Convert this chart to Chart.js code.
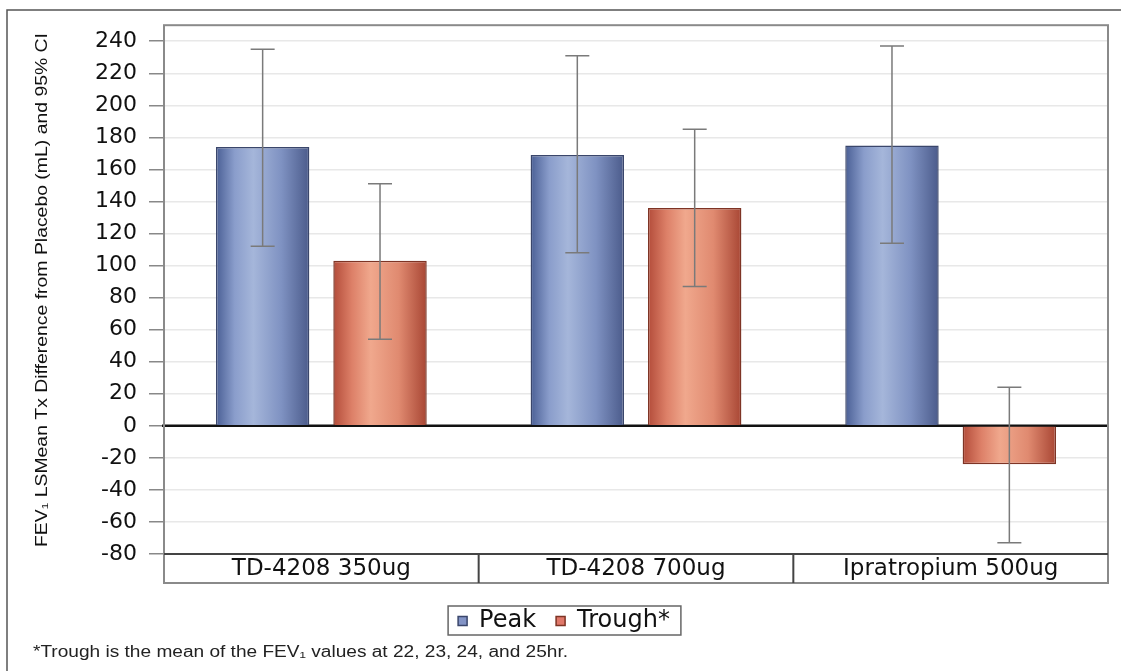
<!DOCTYPE html>
<html>
<head>
<meta charset="utf-8">
<title>FEV1 LSMean difference from placebo</title>
<script src="https://cdn.jsdelivr.net/npm/chart.js@4/dist/chart.umd.min.js"></script>
<style>
  html, body { margin: 0; padding: 0; background: #fff; }
  canvas { display: block; }
</style>
</head>
<body>
<canvas id="fev" width="1121" height="671"></canvas>
<script>
// treatments and LSMean differences (mL) with 95% CI
var categories = ['TD-4208 350ug', 'TD-4208 700ug', 'Ipratropium 500ug'];
var peak = [174, 169, 175];
var peakLow = [112, 108, 114];
var peakHigh = [235, 231, 237];
var trough = [103, 136, -24];
var troughLow = [54, 87, -73];
var troughHigh = [151, 185, 24];
var yTicks = [-80, -60, -40, -20, 0, 20, 40, 60, 80, 100, 120, 140, 160, 180, 200, 220, 240];

var yTitle = 'FEV\u2081 LSMean Tx Difference from Placebo (mL) and 95% CI';
var footnote = '*Trough is the mean of the FEV\u2081 values at 22, 23, 24, and 25hr.';

var FONT = "'DejaVu Sans', Verdana, sans-serif";
var ARIAL = "'Liberation Sans', Arial, sans-serif";
var CAT_BOX = 29; // height of the category label row

// horizontal shading of each bar, like a lit cylinder
var shades = [
  { stops: ['#4a5f95', '#8a9dcb', '#a5b6da', '#7f92c2', '#4b5b8b'], border: '#3a466b' },
  { stops: ['#b34c3a', '#dd8068', '#f0a88d', '#e08a70', '#a84634'], border: '#7e3425' }
];

var barShading = {
  id: 'barShading',
  beforeDatasetsDraw: function (chart) {
    var ctx = chart.ctx;
    chart.data.datasets.forEach(function (ds, di) {
      var meta = chart.getDatasetMeta(di);
      var s = shades[di];
      meta.data.forEach(function (el) {
        var x0 = el.x - el.width / 2, x1 = el.x + el.width / 2;
        var g = ctx.createLinearGradient(x0, 0, x1, 0);
        g.addColorStop(0, s.stops[0]);
        g.addColorStop(0.2, s.stops[1]);
        g.addColorStop(0.4, s.stops[2]);
        g.addColorStop(0.7, s.stops[3]);
        g.addColorStop(1, s.stops[4]);
        el.options = Object.assign({}, el.options, { backgroundColor: g, borderColor: s.border });
      });
    });
  }
};

// 95% CI whiskers drawn through the y scale
var errorBars = {
  id: 'errorBars',
  afterDatasetsDraw: function (chart) {
    var ctx = chart.ctx, y = chart.scales.y;
    var lows = [peakLow, troughLow], highs = [peakHigh, troughHigh];
    ctx.save();
    ctx.strokeStyle = '#7a7a7a';
    ctx.lineWidth = 1.5;
    chart.data.datasets.forEach(function (ds, di) {
      chart.getDatasetMeta(di).data.forEach(function (el, i) {
        var yl = y.getPixelForValue(lows[di][i]);
        var yh = y.getPixelForValue(highs[di][i]);
        ctx.beginPath();
        ctx.moveTo(el.x, yl); ctx.lineTo(el.x, yh);
        ctx.moveTo(el.x - 12, yl); ctx.lineTo(el.x + 12, yl);
        ctx.moveTo(el.x - 12, yh); ctx.lineTo(el.x + 12, yh);
        ctx.stroke();
      });
    });
    ctx.restore();
  }
};

// text squeezed or widened along its baseline to a given length
function fitText(ctx, text, len) {
  var w = ctx.measureText(text).width;
  ctx.scale(len / w, 1);
  ctx.fillText(text, 0, 0);
}

// frame, zero line, category box, legend box, axis title, footnote
var decor = {
  id: 'decor',
  beforeDatasetsDraw: function (chart) {
    var ctx = chart.ctx, a = chart.chartArea, y = chart.scales.y;
    var y0 = y.getPixelForValue(0);
    ctx.save();
    ctx.strokeStyle = '#111';
    ctx.lineWidth = 2.5;
    ctx.beginPath();
    ctx.moveTo(a.left - 2, y0); ctx.lineTo(a.right, y0);
    ctx.stroke();
    ctx.restore();
  },
  afterDraw: function (chart) {
    var ctx = chart.ctx, a = chart.chartArea, x = chart.scales.x;
    var boxBottom = a.bottom + CAT_BOX;
    ctx.save();
    // outer frame
    ctx.strokeStyle = '#555';
    ctx.lineWidth = 1.5;
    ctx.beginPath();
    ctx.moveTo(7, chart.height); ctx.lineTo(7, 10); ctx.lineTo(chart.width, 10);
    ctx.stroke();
    // plot border including category row
    ctx.strokeStyle = '#8a8a8a';
    ctx.lineWidth = 2;
    ctx.strokeRect(a.left, a.top, a.right - a.left, boxBottom - a.top);
    // axis line and category dividers
    ctx.strokeStyle = '#444';
    ctx.beginPath();
    ctx.moveTo(a.left, a.bottom); ctx.lineTo(a.right, a.bottom);
    for (var i = 1; i < categories.length; i++) {
      var px = x.getPixelForValue(i - 0.5);
      ctx.moveTo(px, a.bottom); ctx.lineTo(px, boxBottom);
    }
    ctx.stroke();
    // legend frame
    var lg = chart.legend;
    if (lg && lg.legendHitBoxes && lg.legendHitBoxes.length) {
      var hb = lg.legendHitBoxes;
      var last = hb[hb.length - 1];
      var l = hb[0].left - 10, r = last.left + last.width + 11;
      var t = hb[0].top - 3, h = hb[0].height + 5;
      ctx.strokeStyle = '#666';
      ctx.lineWidth = 1.5;
      ctx.strokeRect(l, t, r - l, h);
    }
    ctx.fillStyle = '#111';
    ctx.textBaseline = 'middle';
    // y axis title
    ctx.save();
    ctx.translate(42, 290);
    ctx.rotate(-Math.PI / 2);
    ctx.textAlign = 'center';
    ctx.font = '17px ' + ARIAL;
    fitText(ctx, yTitle, 514);
    ctx.restore();
    // footnote
    ctx.save();
    ctx.translate(33, 653);
    ctx.textAlign = 'left';
    ctx.fillStyle = '#222';
    ctx.font = '16px ' + ARIAL;
    fitText(ctx, footnote, 535);
    ctx.restore();
    ctx.restore();
  }
};

new Chart(document.getElementById('fev').getContext('2d'), {
  type: 'bar',
  data: {
    labels: categories,
    datasets: [
      { label: 'Peak', data: peak, backgroundColor: '#8394c6', borderColor: '#3a466b', borderWidth: 1.5 },
      { label: 'Trough*', data: trough, backgroundColor: '#e0786a', borderColor: '#7e3425', borderWidth: 1.5 }
    ]
  },
  options: {
    responsive: false,
    animation: false,
    events: [],
    categoryPercentage: 0.746,
    barPercentage: 0.796,
    layout: { padding: { top: 22, right: 13, left: 20, bottom: 28 } },
    scales: {
      x: {
        grid: { display: false, drawTicks: false },
        border: { display: false },
        ticks: { color: '#111', font: { family: FONT, size: 23 }, padding: 1 },
        afterFit: function (s) { s.height = CAT_BOX + 6; }
      },
      y: {
        min: -80,
        max: 250,
        afterBuildTicks: function (s) {
          s.ticks = yTicks.map(function (v) { return { value: v }; });
        },
        grid: { color: '#e8e8e8', lineWidth: 1.5, tickColor: '#888', tickLength: 15 },
        border: { display: false },
        ticks: { color: '#111', font: { family: FONT, size: 22 }, padding: 12 },
        afterFit: function (s) { s.width = 144; }
      }
    },
    plugins: {
      tooltip: { enabled: false },
      legend: {
        position: 'bottom',
        labels: {
          color: '#111',
          font: { family: FONT, size: 24 },
          boxWidth: 9,
          boxHeight: 9,
          padding: 20
        }
      }
    }
  },
  plugins: [barShading, errorBars, decor]
});
</script>
</body>
</html>
